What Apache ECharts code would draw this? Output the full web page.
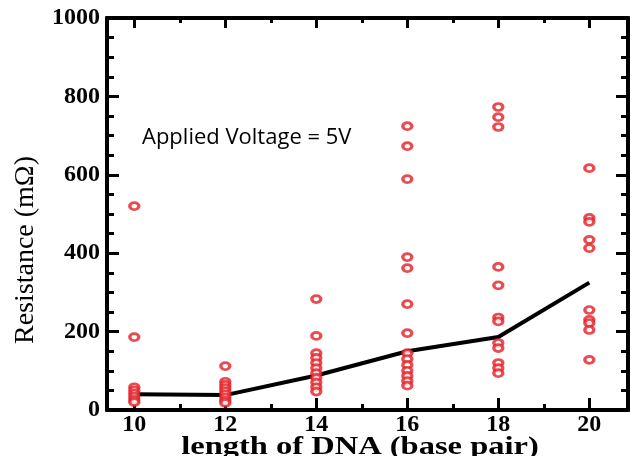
<!DOCTYPE html>
<html>
<head>
<meta charset="utf-8">
<script src="https://cdn.jsdelivr.net/npm/echarts@6/dist/echarts.min.js"></script>
<style>
  html, body { margin: 0; padding: 0; background: #fff; }
  #chart { width: 630px; height: 456px; }
</style>
</head>
<body>
<div id="chart"></div>
<script>
// base pair lengths and measured resistances (mOhm)
var lengths = [10, 12, 14, 16, 18, 20];
var r10 = [520, 186, 58, 50, 42, 34, 26, 20];
var r12 = [112, 72, 64, 56, 48, 40, 32, 24, 18];
var r14 = [283, 189, 145, 133, 120, 107, 94, 82, 70, 58, 47];
var r16 = [724, 673, 589, 390, 362, 270, 196, 145, 130, 115, 100, 87, 74, 62];
var r18 = [773, 747, 722, 365, 318, 236, 226, 171, 158, 120, 107, 94];
var r20 = [617, 490, 480, 434, 413, 255, 230, 222, 204, 128];
var meanLine = [40, 38, 88, 150, 186, 325];
var majorX = [10, 12, 14, 16, 18, 20];
var minorX = [11, 13, 15, 17, 19];

var groups = [r10, r12, r14, r16, r18, r20];
var points = [];
groups.forEach(function (g, i) {
  g.forEach(function (v) { points.push([lengths[i], v]); });
});
var linePts = lengths.map(function (x, i) { return [x, meanLine[i]]; });

var serif = '"Liberation Serif", "DejaVu Serif", serif';
var chart = echarts.init(document.getElementById('chart'));

function xAx(pos, ticks, len, labels) {
  return {
    type: 'value', position: pos, min: 9.4, max: 20.85,
    axisLine: { show: true, onZero: false, lineStyle: { color: '#000', width: 4 } },
    axisTick: { show: true, inside: true, length: len, customValues: ticks,
      lineStyle: { color: '#000', width: 3 } },
    axisLabel: { show: labels, customValues: ticks, margin: 3,
      fontFamily: serif, fontWeight: 'bold', fontSize: 24, color: '#000' },
    splitLine: { show: false }
  };
}
function yAx(pos, labels) {
  return {
    type: 'value', position: pos, min: 0, max: 1000, interval: 200,
    axisLine: { show: true, onZero: false, lineStyle: { color: '#000', width: 4 } },
    axisTick: { show: true, inside: true, length: 12, lineStyle: { color: '#000', width: 3 } },
    minorTick: { show: true, splitNumber: 4, length: 7, lineStyle: { color: '#000', width: 3 } },
    axisLabel: { show: labels, margin: 7, formatter: function (v) { return String(v); },
      fontFamily: serif, fontWeight: 'bold', fontSize: 24, color: '#000' },
    splitLine: { show: false }
  };
}

chart.setOption({
  animation: false,
  grid: { left: 107, right: 2, top: 18, bottom: 46 },
  xAxis: [
    xAx('bottom', majorX, 12, true),
    xAx('bottom', minorX, 6, false),
    xAx('top', majorX, 10, false),
    xAx('top', minorX, 5, false)
  ],
  yAxis: [yAx('left', true), yAx('right', false)],
  graphic: [
    { type: 'text', left: 142, top: 127,
      style: { text: 'Applied Voltage = 5V', font: '22px "Open Sans", sans-serif', fill: '#000' } },
    { type: 'text', x: 360, y: 447, scaleX: 1.25,
      style: { text: 'length of DNA (base pair)', font: 'bold 26px ' + serif,
        fill: '#000', align: 'center', verticalAlign: 'middle' } },
    { type: 'text', x: 26, y: 250, rotation: Math.PI / 2,
      style: { text: 'Resistance (m\u03A9)', font: '28px ' + serif,
        fill: '#000', align: 'center', verticalAlign: 'middle' } }
  ],
  series: [
    {
      type: 'line', data: linePts, symbol: 'none', z: 3,
      lineStyle: { color: '#000', width: 4 }
    },
    {
      type: 'scatter', data: points, symbol: 'circle', symbolSize: [9, 7], z: 4,
      itemStyle: { color: '#fff', borderColor: '#e31e24', borderWidth: 3 }
    }
  ]
});
</script>
</body>
</html>
